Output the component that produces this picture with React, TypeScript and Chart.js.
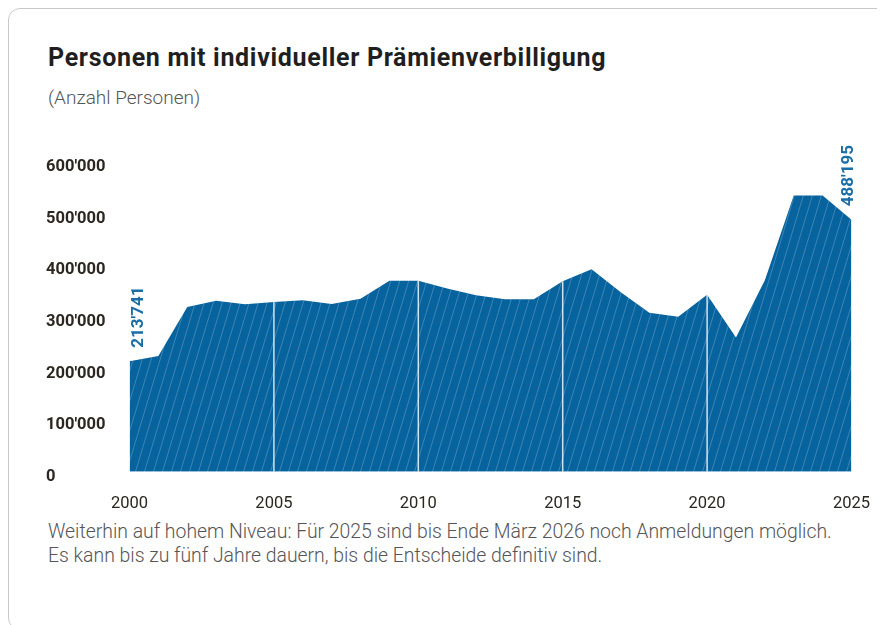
import React, { useEffect, useRef } from "react";
import { Chart, registerables } from "chart.js";

Chart.register(...registerables);

const YEARS: string[] = [
  "2000", "2001", "2002", "2003", "2004", "2005", "2006", "2007", "2008", "2009",
  "2010", "2011", "2012", "2013", "2014", "2015", "2016", "2017", "2018", "2019",
  "2020", "2021", "2022", "2023", "2024", "2025",
];

const PERSONS: number[] = [
  213741, 224000, 319000, 331000, 324500, 329000, 332000, 325000, 335000, 370000,
  370000, 355000, 342000, 334000, 334000, 369000, 392000, 348000, 308000, 300000,
  343000, 260000, 371000, 535000, 535000, 488195,
];

const Y_TICKS: number[] = [0, 100000, 200000, 300000, 400000, 500000, 600000];
const X_LABEL_YEARS: number[] = [2000, 2005, 2010, 2015, 2020, 2025];
const DIVIDER_YEARS: number[] = [2005, 2010, 2015, 2020];
const LABELLED_INDEXES: number[] = [0, 25];

const TITLE = "Personen mit individueller Prämienverbilligung";
const SUBTITLE = "(Anzahl Personen)";
const NOTE_LINES: string[] = [
  "Weiterhin auf hohem Niveau: Für 2025 sind bis Ende März 2026 noch Anmeldungen möglich.",
  "Es kann bis zu fünf Jahre dauern, bis die Entscheide definitiv sind.",
];

const FILL = "#07639e";
const LABEL_BLUE = "#1a6ea8";
const TEXT_DARK = "#2b2620";

function fmt(v: number): string {
  return Math.round(v).toString().replace(/\B(?=(\d{3})+(?!\d))/g, "'");
}

function makePattern(): CanvasPattern | string {
  const w = 9;
  const h = 30;
  const c = document.createElement("canvas");
  c.width = w;
  c.height = h;
  const g = c.getContext("2d");
  if (!g) return FILL;
  g.fillStyle = FILL;
  g.fillRect(0, 0, w, h);
  g.strokeStyle = "rgba(255,255,255,0.22)";
  g.lineWidth = 1;
  for (const x0 of [-w, 0, w]) {
    g.beginPath();
    g.moveTo(x0, h);
    g.lineTo(x0 + w, 0);
    g.stroke();
  }
  const p = g.createPattern(c, "repeat");
  return p || FILL;
}

const overlayPlugin = {
  id: "overlay",
  afterDatasetsDraw(chart: any) {
    const meta = chart.getDatasetMeta(0);
    const ctx = chart.ctx;
    const bottom = chart.chartArea.bottom;
    ctx.save();
    ctx.strokeStyle = "rgba(232,240,247,0.9)";
    ctx.lineWidth = 1.5;
    YEARS.forEach((y, i) => {
      if (!DIVIDER_YEARS.includes(Number(y))) return;
      const pt = meta.data[i];
      if (!pt) return;
      ctx.beginPath();
      ctx.moveTo(pt.x, pt.y);
      ctx.lineTo(pt.x, bottom);
      ctx.stroke();
    });
    ctx.fillStyle = LABEL_BLUE;
    ctx.font = "bold 17px Roboto";
    ctx.textAlign = "left";
    ctx.textBaseline = "alphabetic";
    LABELLED_INDEXES.forEach((i) => {
      const pt = meta.data[i];
      if (!pt) return;
      const dx = i === 0 ? 13 : 1.5;
      ctx.save();
      ctx.translate(pt.x + dx, pt.y - 13.5);
      ctx.rotate(-Math.PI / 2);
      ctx.fillText(fmt(PERSONS[i]), 0, 0);
      ctx.restore();
    });
    ctx.restore();
  },
};

function AreaChart() {
  const ref = useRef<HTMLCanvasElement | null>(null);
  useEffect(() => {
    if (!ref.current) return;
    const pattern = makePattern();
    const chart = new Chart(ref.current, {
      type: "line",
      data: {
        labels: YEARS,
        datasets: [
          {
            data: PERSONS,
            fill: "origin",
            backgroundColor: pattern as any,
            borderWidth: 0,
            borderColor: "transparent",
            pointRadius: 0,
            tension: 0,
          },
        ],
      },
      options: {
        animation: false,
        responsive: false,
        maintainAspectRatio: false,
        layout: { padding: { left: 0, right: 33.5, top: 22, bottom: 0 } },
        plugins: {
          legend: { display: false },
          tooltip: { enabled: false },
        },
        scales: {
          x: {
            type: "category",
            offset: false,
            border: { display: false },
            grid: { display: false },
            ticks: {
              autoSkip: false,
              maxRotation: 0,
              padding: 14,
              color: TEXT_DARK,
              font: { family: "Roboto", size: 16.5, weight: "normal" },
              callback: (_v: any, idx: number) => {
                const yr = Number(YEARS[idx]);
                return X_LABEL_YEARS.includes(yr) ? YEARS[idx] : "";
              },
            },
            afterFit: (s: any) => {
              s.height = 48.3;
            },
          },
          y: {
            min: 0,
            max: 600000,
            border: { display: false },
            grid: { display: false },
            afterBuildTicks: (s: any) => {
              s.ticks = Y_TICKS.map((v) => ({ value: v }));
            },
            ticks: {
              crossAlign: "far",
              labelOffset: 5,
              color: TEXT_DARK,
              font: { family: "Roboto", size: 16.5, weight: "bold" },
              callback: (v: any) => fmt(Number(v)),
            },
            afterFit: (s: any) => {
              s.width = 83.5;
            },
          },
        },
      },
      plugins: [overlayPlugin],
    } as any);
    return () => chart.destroy();
  }, []);
  return (
    <canvas
      ref={ref}
      width={839}
      height={380}
      style={{ position: "absolute", left: 38, top: 132, width: 839, height: 380 }}
    />
  );
}

export default function App() {
  useEffect(() => {
    document.documentElement.style.overflow = "hidden";
    document.body.style.overflow = "hidden";
  }, []);
  return (
    <div
      style={{
        position: "relative",
        width: 877,
        height: 617,
        overflow: "hidden",
        fontFamily: "Roboto, sans-serif",
      }}
    >
      <div
        style={{
          position: "absolute",
          left: 0,
          top: 0,
          width: 889,
          height: 622,
          boxSizing: "border-box",
          border: "1px solid #c8c8c8",
          borderRadius: 12,
          background: "#fff",
        }}
      />
      <div
        style={{
          position: "absolute",
          left: 40,
          top: 35,
          fontSize: 25,
          letterSpacing: 0.68,
          lineHeight: "30px",
          fontWeight: 700,
          color: "#1f1f1f",
          whiteSpace: "nowrap",
        }}
      >
        {TITLE}
      </div>
      <div
        style={{
          position: "absolute",
          left: 40,
          top: 79,
          fontSize: 19,
          lineHeight: "22px",
          fontWeight: 300,
          color: "#555",
          whiteSpace: "nowrap",
        }}
      >
        {SUBTITLE}
      </div>
      <AreaChart />
      <div
        style={{
          position: "absolute",
          left: 40,
          top: 512,
          fontSize: 19.4,
          lineHeight: "24px",
          fontWeight: 300,
          color: "#555",
          whiteSpace: "nowrap",
        }}
      >
        {NOTE_LINES.map((l, i) => (
          <div key={i}>{l}</div>
        ))}
      </div>
    </div>
  );
}
